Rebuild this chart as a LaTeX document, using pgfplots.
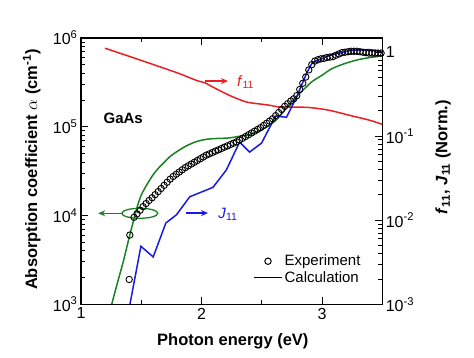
\documentclass[border=0pt]{standalone}
\usepackage{fontspec}
\setmainfont{Liberation Sans}
\usepackage{pgfplots}
\pgfplotsset{compat=1.18}
\usetikzlibrary{arrows.meta}
\definecolor{cred}{RGB}{235,30,35}
\definecolor{cblue}{RGB}{25,25,225}
\definecolor{cgreen}{RGB}{25,130,35}
\begin{document}
\begin{tikzpicture}
\useasboundingbox (-81pt,-52.7pt) rectangle (393pt,304.3pt);
\pgfplotsset{
  common/.style={
    at={(0,0)}, anchor=south west, scale only axis,
    width=301.3pt, height=266.3pt,
    xmin=1, xmax=3.5,
    axis line style={line width=1.1pt},
    every tick/.style={black, line width=1pt},
    major tick length=7pt, minor tick length=4pt,
    tick align=inside,
    tick label style={font=\fontsize{16}{19}\selectfont},
  }
}
\begin{axis}[common,
  ymode=log, ymin=1e3, ymax=1e6,
  ytick pos=left, xtick pos=both,
  xtick={1,2,3}, xticklabels={1,2,3},
  minor xtick={1.5,2.5},
  ytick={1e3,1e4,1e5,1e6},
  yticklabels={10\textsuperscript{3},10\textsuperscript{4},10\textsuperscript{5},10\textsuperscript{6}},
  minor ytick={2e3,3e3,4e3,5e3,6e3,7e3,8e3,9e3,2e4,3e4,4e4,5e4,6e4,7e4,8e4,9e4,2e5,3e5,4e5,5e5,6e5,7e5,8e5,9e5},
  xlabel={Photon energy (eV)},
  ylabel={Absorption coefficient $\alpha$ (cm\textsuperscript{-1})},
  every axis x label/.style={at={(axis description cs:0.504,-0.140)}, anchor=center, font=\fontsize{16.5}{20}\selectfont\bfseries},
  every axis y label/.style={at={(axis description cs:-0.1636,0.506)}, anchor=center, rotate=90, font=\fontsize{16.5}{20}\selectfont\bfseries},
  legend style={draw=none, fill=none, at={(axis description cs:0.568,0.197)}, anchor=north west,
    font=\fontsize{15}{18}\selectfont, row sep=0pt, inner sep=1pt},
  legend cell align=left,
]
\addlegendimage{legend image code/.code={\draw[black, line width=1pt] plot[mark=o, mark size=3.2pt] coordinates {(14pt,0pt)};}}
\addlegendentry{Experiment}
\addlegendimage{legend image code/.code={\draw[black, line width=1.3pt] (0pt,0pt) -- (28pt,0pt);}}
\addlegendentry{Calculation}
% calculation (green)
\addplot[cgreen, line width=1.5pt, smooth] coordinates {
(1.255,1000) (1.30,1700) (1.35,3000) (1.39,5000) (1.433,8500) (1.47,13000) (1.50,17000)
(1.544,22000) (1.60,29000) (1.654,35500) (1.70,41000) (1.737,46000) (1.80,53000)
(1.875,61000) (1.95,67500) (2.02,71500) (2.095,73500) (2.16,74000) (2.233,75000)
(2.30,77500) (2.40,82000) (2.48,90000) (2.565,104000) (2.62,120000) (2.675,145000)
(2.73,180000) (2.79,220000) (2.85,265000) (2.92,325000) (3.006,385000) (3.067,440000)
(3.144,490000) (3.227,535000) (3.30,570000) (3.39,600000) (3.50,630000)};
\node[font=\fontsize{15}{18}\selectfont\bfseries] at (axis cs:1.35,126000) {GaAs};
\draw[cgreen, line width=1.3pt] (axis cs:1.488,10600) ellipse [x radius=18pt, y radius=5pt];
\draw[cgreen, line width=1.3pt, -{Stealth[length=7pt,width=6pt]}] (axis cs:1.337,10600) -- (axis cs:1.143,10600);
\end{axis}
\begin{axis}[common,
  ymode=log, ymin=1e-3, ymax=1.47,
  axis x line=none, axis y line*=right,
  ytick={1e-3,1e-2,1e-1,1},
  yticklabels={10\textsuperscript{-3},10\textsuperscript{-2},10\textsuperscript{-1},1},
  minor ytick={2e-3,3e-3,4e-3,5e-3,6e-3,7e-3,8e-3,9e-3,2e-2,3e-2,4e-2,5e-2,6e-2,7e-2,8e-2,9e-2,2e-1,3e-1,4e-1,5e-1,6e-1,7e-1,8e-1,9e-1},
  ylabel={\textit{f}\textsubscript{11}, \textit{J}\textsubscript{11} (Norm.)},
  every axis y label/.style={at={(axis description cs:1.2015,0.553)}, anchor=center, rotate=90, font=\fontsize{16.5}{20}\selectfont\bfseries},
]
\addplot[cred, line width=1.5pt, smooth] coordinates {
(1.199,1.11) (1.40,0.89) (1.544,0.757) (1.70,0.634) (1.82,0.552) (1.958,0.46) (2.03,0.43)
(2.095,0.383) (2.233,0.305) (2.372,0.255) (2.509,0.239) (2.565,0.233) (2.647,0.222)
(2.73,0.222) (2.896,0.219) (3.06,0.203) (3.227,0.177) (3.392,0.155) (3.50,0.138)};
\addplot[cblue, line width=1.5pt] coordinates {
(1.406,0.001) (1.497,0.0049) (1.599,0.00366) (1.704,0.00927) (1.792,0.0116) (1.902,0.019)
(2.095,0.0246) (2.206,0.0396) (2.316,0.085) (2.399,0.0647) (2.498,0.0826) (2.614,0.173)
(2.705,0.168) (2.788,0.29) (2.871,0.557) (2.92,0.752) (3.06,0.91) (3.227,1.04)
(3.392,1.07) (3.50,1.01)};
\draw[cred, line width=1.3pt, -{Stealth[length=7pt,width=6pt]}] (axis cs:2.026,0.452) -- (axis cs:2.22,0.452);
\node[cred, anchor=west, inner sep=1pt, font=\fontsize{15}{18}\selectfont] at (axis cs:2.285,0.44) {\textit{f}\textsubscript{11}};
\draw[cblue, line width=1.3pt, -{Stealth[length=7pt,width=6pt]}] (axis cs:1.875,0.01217) -- (axis cs:2.054,0.01217);
\node[cblue, anchor=west, inner sep=1pt, font=\fontsize{15}{18}\selectfont] at (axis cs:2.13,0.0118) {\textit{J}\textsubscript{11}};
\end{axis}
\begin{axis}[common,
  ymode=log, ymin=1e3, ymax=1e6,
  hide axis, clip=false,
]
% experiment
\addplot[only marks, mark=o, mark size=3.2pt, black, line width=0.9pt, mark options={fill=white}] coordinates {
(1.40,1905) (1.405,6026)
(1.44,9550) (1.465,10470) (1.49,11480) (1.515,12590) (1.54,13650) (1.565,14790)
(1.59,15850) (1.615,17180) (1.64,18620) (1.665,20180) (1.69,21880) (1.715,23710)
(1.74,25700) (1.765,27540) (1.79,29170) (1.815,30900) (1.84,32730) (1.865,34670)
(1.89,36310) (1.915,38020) (1.94,39810) (1.965,41690) (1.99,43650) (2.015,45710)
(2.04,47860) (2.065,49550) (2.09,51290) (2.115,53090) (2.14,54950) (2.165,56890)
(2.19,58880) (2.215,60950) (2.24,63100) (2.265,65310) (2.29,67610) (2.315,70790)
(2.34,74130) (2.365,77620) (2.39,81280) (2.415,85110) (2.44,89130) (2.465,93330)
(2.49,97720) (2.515,103500) (2.54,109600) (2.565,116100) (2.59,123000) (2.615,133400)
(2.64,144500) (2.665,156700) (2.69,169800) (2.715,182000) (2.74,195000) (2.765,206500)
(2.79,223900) (2.815,263000) (2.84,309000) (2.865,363100) (2.89,436500) (2.915,501200)
(2.94,549500) (2.965,568900) (2.99,582100) (3.015,588800) (3.04,602600) (3.065,609500)
(3.09,616600) (3.115,638300) (3.14,660700) (3.165,683900) (3.19,691800) (3.215,699800)
(3.24,707900) (3.265,707900) (3.29,707900) (3.315,699800) (3.34,691800) (3.365,683900)
(3.39,676100) (3.415,676100) (3.44,676100) (3.465,676100) (3.49,676100)};
\end{axis}
\end{tikzpicture}
\end{document}
